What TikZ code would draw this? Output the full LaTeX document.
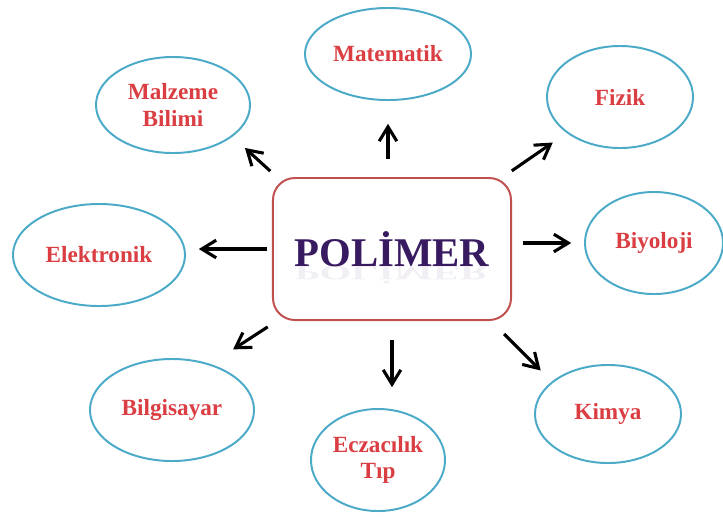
\documentclass[tikz,border=0pt]{standalone}
\usepackage{fontspec}
\setmainfont{Liberation Serif}
\usetikzlibrary{arrows.meta,shapes.geometric}
\definecolor{fieldline}{RGB}{75,170,200}
\definecolor{fieldtext}{RGB}{218,62,66}
\definecolor{boxline}{RGB}{192,80,77}
\definecolor{polytext}{RGB}{56,26,96}

\begin{document}
\begin{tikzpicture}[x=0.025cm,y=-0.025cm,
    field/.style={draw=fieldline,line width=1.4pt,ellipse,inner sep=0pt,
      text=fieldtext,align=center,
      font=\fontsize{16.5}{19}\selectfont\bfseries},
    link/.style={line width=2.2pt,
      -{Straight Barb[length=3.6mm,width=4.4mm]}}]
  \useasboundingbox (0,0) rectangle (723,516);
  % centre box
  \node [draw=boxline,line width=1.4pt,rounded corners=0.55cm,
      minimum width=5.95cm,minimum height=3.55cm,text=polytext,
      font=\fontsize{29}{30}\selectfont\bfseries]
    at (392,249) (polimer) {POLİMER}
  ;
  \node [anchor=base,yscale=-0.5,opacity=0.07,text=polytext,
      font=\fontsize{29}{30}\selectfont\bfseries]
    at (polimer.base) (mirror) {POLİMER}
  ;
  % fields
  \node [field,minimum width=4.15cm,minimum height=2.3cm]
    at (388,54) (matematik) {Matematik};
  \node [field,minimum width=3.85cm,minimum height=2.4cm]
    at (173,105) (malzeme) {Malzeme\\Bilimi};
  \node [field,minimum width=3.65cm,minimum height=2.55cm]
    at (620,97) (fizik) {Fizik};
  \node [field,minimum width=4.3cm,minimum height=2.55cm]
    at (99,255) (elektronik) {Elektronik};
  \node [field,minimum width=3.45cm,minimum height=2.55cm]
    at (654,243) (biyoloji) {Biyoloji};
  \node [field,minimum width=4.1cm,minimum height=2.55cm]
    at (172,410) (bilgisayar) {Bilgisayar};
  \node [field,minimum width=3.35cm,minimum height=2.55cm]
    at (378,460) (eczacilik) {Eczacılık\\Tıp};
  \node [field,minimum width=3.65cm,minimum height=2.45cm]
    at (608,414) (kimya) {Kimya};
  % arrows
  \draw [link,shorten <=0.45cm,shorten >=0.57cm]
    (matematik.south |- polimer.north) -- (matematik.south);
  \draw [link,shorten <=0.22cm,shorten >=0.42cm]
    (polimer.148) -- (malzeme.-28);
  \draw [link,shorten <=0.27cm,shorten >=0.42cm]
    (polimer.33) -- (fizik.-146);
  \draw [link,shorten <=0.12cm,shorten >=0.32cm]
    (polimer.west) -- (polimer.west -| elektronik.east);
  \draw [link,shorten <=0.27cm,shorten >=0.32cm]
    (biyoloji.west -| polimer.east) -- (biyoloji.west);
  \draw [link,shorten <=0.27cm,shorten >=0.67cm]
    (polimer.-148) -- (bilgisayar.50);
  \draw [link,shorten <=0.47cm,shorten >=0.52cm]
    (polimer.south) -- (polimer.south |- eczacilik.north);
  \draw [link,shorten <=0.46cm,shorten >=0.39cm]
    (polimer.-36) -- (kimya.150);
\end{tikzpicture}
\end{document}
